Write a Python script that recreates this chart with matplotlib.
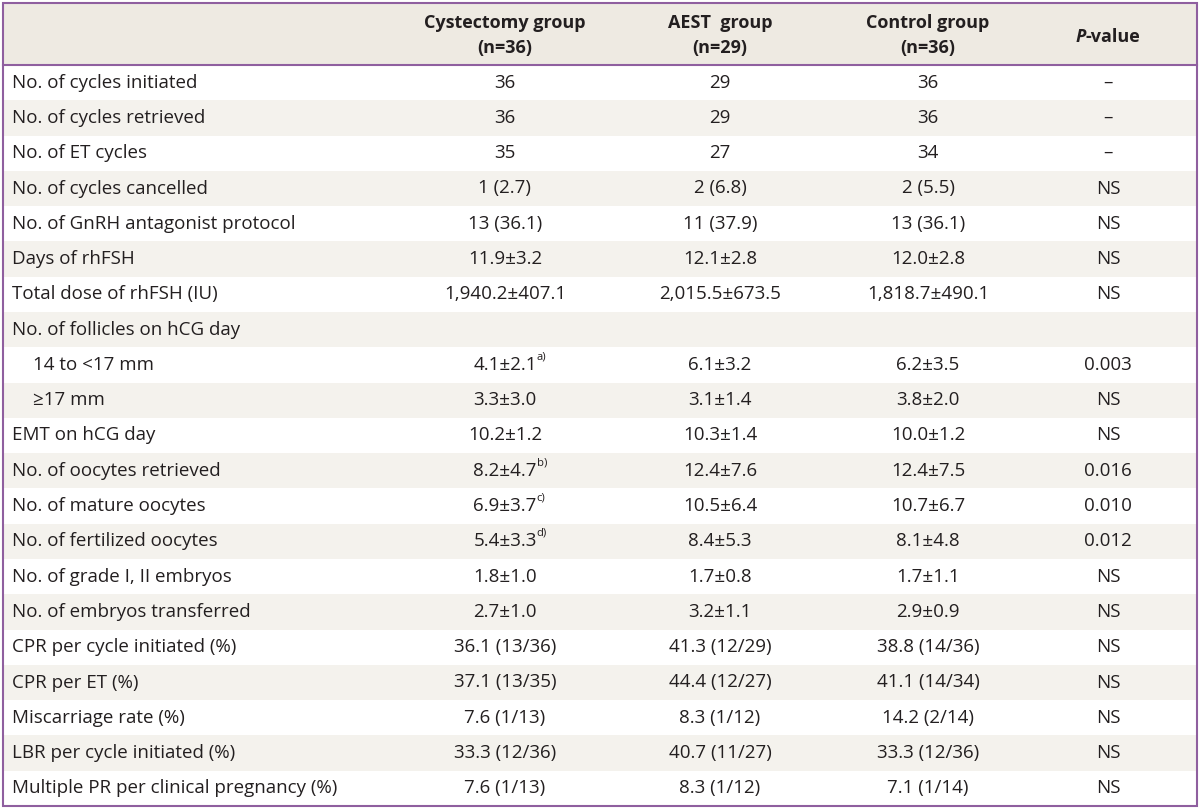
import matplotlib
matplotlib.use("Agg")
import matplotlib.pyplot as plt
from matplotlib.patches import Rectangle

plt.rcParams['font.family'] = ['Open Sans', 'DejaVu Sans']

# table content
headers = ["Cystectomy group\n(n=36)", "AEST  group\n(n=29)", "Control group\n(n=36)"]
labels = [
    "No. of cycles initiated", "No. of cycles retrieved", "No. of ET cycles",
    "No. of cycles cancelled", "No. of GnRH antagonist protocol", "Days of rhFSH",
    "Total dose of rhFSH (IU)", "No. of follicles on hCG day", "14 to <17 mm",
    "\u226517 mm", "EMT on hCG day", "No. of oocytes retrieved",
    "No. of mature oocytes", "No. of fertilized oocytes", "No. of grade I, II embryos",
    "No. of embryos transferred", "CPR per cycle initiated (%)", "CPR per ET (%)",
    "Miscarriage rate (%)", "LBR per cycle initiated (%)",
    "Multiple PR per clinical pregnancy (%)",
]
indent = [False] * 8 + [True, True] + [False] * 11
cystectomy = ["36", "36", "35", "1 (2.7)", "13 (36.1)", "11.9\u00b13.2", "1,940.2\u00b1407.1", "",
              "4.1\u00b12.1", "3.3\u00b13.0", "10.2\u00b11.2", "8.2\u00b14.7", "6.9\u00b13.7",
              "5.4\u00b13.3", "1.8\u00b11.0", "2.7\u00b11.0", "36.1 (13/36)", "37.1 (13/35)",
              "7.6 (1/13)", "33.3 (12/36)", "7.6 (1/13)"]
cyst_sup = [""] * 8 + ["a)", "", "", "b)", "c)", "d)"] + [""] * 7
aest = ["29", "29", "27", "2 (6.8)", "11 (37.9)", "12.1\u00b12.8", "2,015.5\u00b1673.5", "",
        "6.1\u00b13.2", "3.1\u00b11.4", "10.3\u00b11.4", "12.4\u00b17.6", "10.5\u00b16.4",
        "8.4\u00b15.3", "1.7\u00b10.8", "3.2\u00b11.1", "41.3 (12/29)", "44.4 (12/27)",
        "8.3 (1/12)", "40.7 (11/27)", "8.3 (1/12)"]
control = ["36", "36", "34", "2 (5.5)", "13 (36.1)", "12.0\u00b12.8", "1,818.7\u00b1490.1", "",
           "6.2\u00b13.5", "3.8\u00b12.0", "10.0\u00b11.2", "12.4\u00b17.5", "10.7\u00b16.7",
           "8.1\u00b14.8", "1.7\u00b11.1", "2.9\u00b10.9", "38.8 (14/36)", "41.1 (14/34)",
           "14.2 (2/14)", "33.3 (12/36)", "7.1 (1/14)"]
pvalues = ["\u2013", "\u2013", "\u2013", "NS", "NS", "NS", "NS", "", "0.003", "NS", "NS",
           "0.016", "0.010", "0.012", "NS", "NS", "NS", "NS", "NS", "NS", "NS"]

W, H = 1200, 810
fig = plt.figure(figsize=(12, 8.1), dpi=100)
ax = fig.add_axes([0, 0, 1, 1])
ax.set_xlim(0, W)
ax.set_ylim(H, 0)
ax.axis('off')

txt = '#231f20'
purple = '#8f5f9f'
head_bg = '#eeeae2'
stripe = '#f4f2ed'
fs = 13.5
hfs = 13

left, right, top, head_bot, bottom = 3, 1197, 3, 65, 806
row_h = (bottom - head_bot) / len(labels)
col_x = [505, 720, 928, 1108]

# backgrounds
ax.add_patch(Rectangle((left, top), right - left, head_bot - top, color=head_bg, lw=0))
for i in range(len(labels)):
    if i % 2 == 1:
        ax.add_patch(Rectangle((left, head_bot + i * row_h), right - left, row_h, color=stripe, lw=0))

# borders
ax.add_patch(Rectangle((left, top), right - left, bottom - top, fill=False, ec=purple, lw=1.5))
ax.plot([left, right], [head_bot, head_bot], color=purple, lw=1.5)

# header
for x, h in zip(col_x, headers):
    l1, l2 = h.split("\n")
    ax.text(x, 23, l1, ha='center', va='center', fontsize=hfs, fontweight='bold', color=txt)
    ax.text(x, 48, l2, ha='center', va='center', fontsize=hfs, fontweight='bold', color=txt)

fig.canvas.draw()
r = fig.canvas.get_renderer()
p1 = ax.text(0, 37, "P", ha='left', va='center', fontsize=hfs, fontweight='bold',
             fontstyle='italic', color=txt)
p2 = ax.text(0, 37, "-value", ha='left', va='center', fontsize=hfs, fontweight='bold', color=txt)
w1 = p1.get_window_extent(r).width
w2 = p2.get_window_extent(r).width
x0 = col_x[3] - (w1 + w2) / 2
p1.set_x(x0)
p2.set_x(x0 + w1)

# body
for i, lab in enumerate(labels):
    y = head_bot + (i + 0.5) * row_h
    ax.text(33 if indent[i] else 12, y, lab, ha='left', va='center', fontsize=fs, color=txt)
    for x, col in zip(col_x, [cystectomy, aest, control, pvalues]):
        t = ax.text(x, y, col[i], ha='center', va='center', fontsize=fs, color=txt)
        if col is cystectomy and cyst_sup[i]:
            ext = t.get_window_extent(r)
            ax.text(ext.x1, y - 8, cyst_sup[i], ha='left', va='center',
                    fontsize=fs * 0.6, color=txt)

fig.savefig("out.png", dpi=100)
